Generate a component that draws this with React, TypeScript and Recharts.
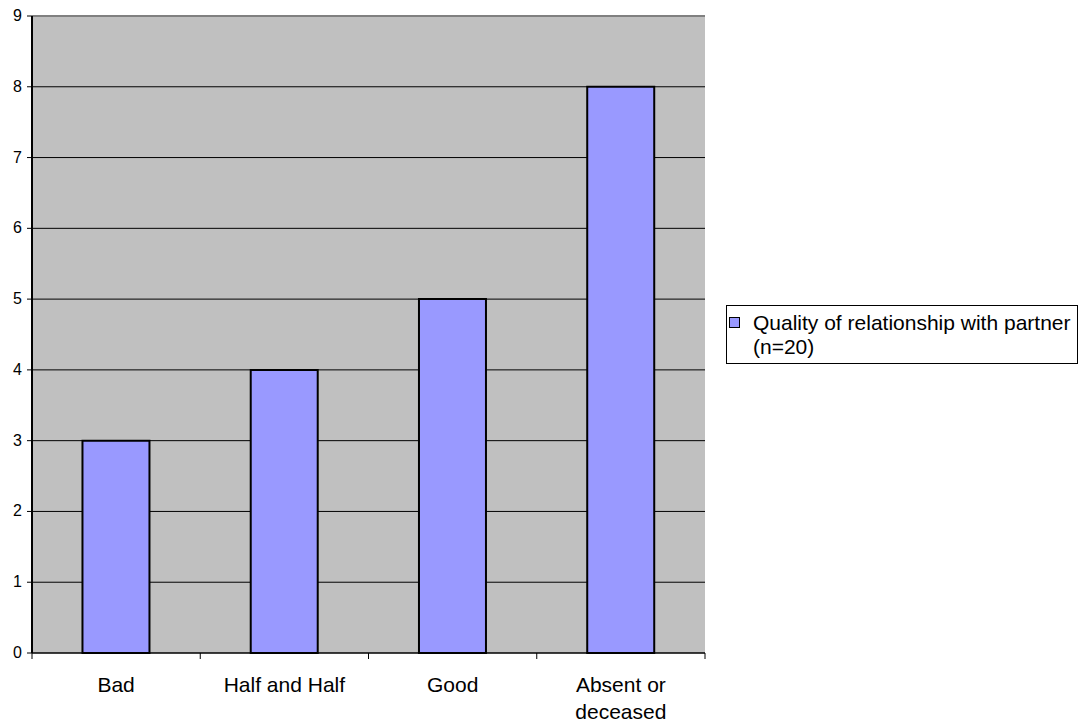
import { BarChart, Bar, XAxis, YAxis, CartesianGrid, Legend, ReferenceLine, Text } from 'recharts';

const categories = ['Bad', 'Half and Half', 'Good', 'Absent or deceased'];
const counts = [3, 4, 5, 8];
const yTicks = [0, 1, 2, 3, 4, 5, 6, 7, 8, 9];
const seriesName = 'Quality of relationship with partner (n=20)';

const FONT = '"Liberation Sans", Arial, sans-serif';

const data = categories.map((category, i) => ({ category, count: counts[i] }));

// label plus tick marks on the category boundaries (Excel style)
function CategoryTick(props: any) {
    const { x, y, payload, index, width, visibleTicksCount } = props;
    const half = width / visibleTicksCount / 2;
    const last = index === visibleTicksCount - 1;
    return (
        <g>
            <line x1={x - half} x2={x - half} y1={y} y2={y + 6} stroke="#000" />
            {last && <line x1={x + half} x2={x + half} y1={y} y2={y + 6} stroke="#000" />}
            <Text
                x={x}
                y={y + 24}
                width={135}
                textAnchor="middle"
                verticalAnchor="start"
                lineHeight={27}
                style={{ fontSize: 21, fontFamily: FONT }}
                fill="#000"
            >
                {payload.value}
            </Text>
        </g>
    );
}

function ValueTick(props: any) {
    const { x, y, payload } = props;
    return (
        <text x={x} y={y} dy={5} textAnchor="end" fontSize={16} fontFamily={FONT} fill="#000">
            {payload.value}
        </text>
    );
}

function LegendBox() {
    return (
        <div
            style={{
                position: 'relative',
                width: 352,
                height: 59,
                border: '1px solid #000',
                boxSizing: 'border-box',
                background: '#fff',
                fontFamily: FONT,
                fontSize: 21,
                lineHeight: '24px',
                color: '#000',
                textAlign: 'left',
            }}
        >
            <span
                style={{
                    position: 'absolute',
                    left: 2,
                    top: 11,
                    width: 9,
                    height: 9,
                    background: '#9999ff',
                    border: '1px solid #000',
                }}
            />
            <div style={{ position: 'absolute', left: 26, top: 5, width: 324 }}>{seriesName}</div>
        </div>
    );
}

export default function App() {
    return (
        <div style={{ position: 'absolute', left: 0, top: 0, width: 1080, height: 722, background: '#fff' }}>
            <BarChart
                width={1080}
                height={722}
                data={data}
                margin={{ top: 16, right: 375, bottom: 0, left: 0 }}
                barCategoryGap="30%"
            >
                <CartesianGrid vertical={false} stroke="#000" fill="#c0c0c0" fillOpacity={1} />
                {/* numeric twin of the category axis, only used for the right border */}
                <XAxis xAxisId={0} type="number" domain={[0, categories.length]} height={0} hide />
                <XAxis
                    xAxisId="labels"
                    dataKey="category"
                    height={69}
                    axisLine={{ stroke: '#000' }}
                    tickLine={false}
                    tickSize={0}
                    tickMargin={0}
                    interval={0}
                    tick={CategoryTick}
                />
                <YAxis
                    width={32}
                    domain={[0, 9]}
                    ticks={yTicks}
                    interval={0}
                    tickSize={5}
                    tickMargin={5}
                    axisLine={{ stroke: '#000', strokeWidth: 2 }}
                    tickLine={{ stroke: '#000' }}
                    tick={ValueTick}
                />
                <ReferenceLine y={9} stroke="#808080" strokeWidth={2} />
                <ReferenceLine x={categories.length} stroke="#808080" strokeWidth={2} />
                <Legend
                    layout="vertical"
                    align="center"
                    verticalAlign="middle"
                    content={<LegendBox />}
                    wrapperStyle={{ left: 726, top: 305, width: 352, height: 59 }}
                />
                <Bar
                    xAxisId="labels"
                    dataKey="count"
                    name={seriesName}
                    fill="#9999ff"
                    stroke="#000"
                    strokeWidth={2}
                    isAnimationActive={false}
                />
            </BarChart>
        </div>
    );
}
